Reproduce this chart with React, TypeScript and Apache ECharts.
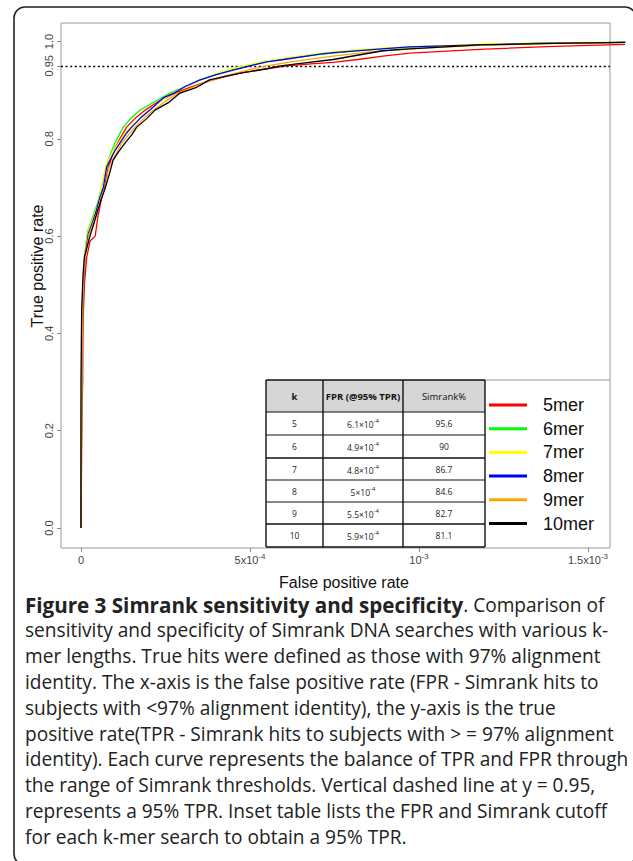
import React, { useEffect, useRef } from "react";
import * as echarts from "echarts";

// ---- data (FPR in units of 1e-4, TPR as fraction) ----
const seriesNames = ["5mer", "6mer", "7mer", "8mer", "9mer", "10mer"];
const seriesColors = ["#ff0000", "#00ff00", "#ffff00", "#0000ff", "#ffa500", "#000000"];

const roc5mer = [[0,0],[0.03,0.24],[0.05,0.30],[0.06,0.42],[0.1,0.50],[0.17,0.557],[0.27,0.59],[0.42,0.60],[0.5,0.64],[0.6,0.675],[0.7,0.70],[0.8,0.74],[1.0,0.78],[1.15,0.80],[1.35,0.824],[1.6,0.842],[1.9,0.859],[2.3,0.877],[2.75,0.893],[3.2,0.905],[3.7,0.917],[4.2,0.927],[4.7,0.935],[5.2,0.941],[5.7,0.946],[6.1,0.95],[6.8,0.954],[7.46,0.957],[8.2,0.963],[8.93,0.970],[9.73,0.976],[11.8,0.984],[14.0,0.990],[16.1,0.994]];
const roc6mer = [[0,0],[0.02,0.30],[0.05,0.46],[0.09,0.53],[0.12,0.57],[0.2,0.61],[0.35,0.64],[0.5,0.67],[0.6,0.70],[0.75,0.745],[0.8,0.756],[1.0,0.791],[1.25,0.824],[1.45,0.84],[1.75,0.859],[2.1,0.873],[2.63,0.894],[3.1,0.908],[3.5,0.92],[4.0,0.932],[4.4,0.94],[4.9,0.95],[5.5,0.959],[6.0,0.964],[7.0,0.973],[8.0,0.98],[9.0,0.986],[10.5,0.99],[12.0,0.994],[14.0,0.997],[16.1,0.998]];
const roc7mer = [[0,0],[0.02,0.30],[0.05,0.47],[0.09,0.54],[0.12,0.565],[0.22,0.612],[0.35,0.635],[0.5,0.665],[0.6,0.70],[0.75,0.748],[0.8,0.756],[1.05,0.785],[1.3,0.812],[1.55,0.83],[1.85,0.85],[2.2,0.87],[2.7,0.893],[3.1,0.907],[3.5,0.92],[4.0,0.934],[4.4,0.943],[4.8,0.95],[5.4,0.959],[6.0,0.966],[7.0,0.975],[8.0,0.982],[9.0,0.987],[10.5,0.991],[12.0,0.995],[14.0,0.997],[16.1,0.998]];
const roc8mer = [[0,0],[0.02,0.30],[0.05,0.45],[0.09,0.52],[0.12,0.557],[0.22,0.606],[0.35,0.63],[0.46,0.654],[0.56,0.68],[0.66,0.70],[0.76,0.742],[0.9,0.762],[1.0,0.775],[1.15,0.791],[1.35,0.812],[1.5,0.824],[1.75,0.842],[2.04,0.859],[2.43,0.884],[2.75,0.894],[3.1,0.908],[3.52,0.921],[4.0,0.932],[4.5,0.941],[5.0,0.95],[5.5,0.958],[6.0,0.963],[7.07,0.974],[7.46,0.977],[8.9,0.985],[9.7,0.989],[11.8,0.993],[13.5,0.996],[16.1,0.998]];
const roc9mer = [[0,0],[0.02,0.30],[0.05,0.46],[0.09,0.53],[0.13,0.56],[0.24,0.605],[0.38,0.63],[0.5,0.655],[0.6,0.68],[0.72,0.70],[0.82,0.74],[1.0,0.765],[1.2,0.79],[1.45,0.812],[1.6,0.824],[1.9,0.845],[2.15,0.859],[2.5,0.877],[2.85,0.893],[3.3,0.906],[3.7,0.917],[4.2,0.928],[4.7,0.937],[5.1,0.944],[5.5,0.95],[6.2,0.958],[7.46,0.970],[8.5,0.978],[9.7,0.985],[11.8,0.992],[14.0,0.996],[16.1,0.998]];
const roc10mer = [[0,0],[0,0.30],[0.02,0.45],[0.06,0.52],[0.1,0.557],[0.29,0.606],[0.4,0.63],[0.5,0.654],[0.62,0.68],[0.7,0.695],[0.85,0.73],[0.95,0.756],[1.1,0.772],[1.3,0.791],[1.5,0.808],[1.65,0.824],[1.95,0.842],[2.19,0.859],[2.6,0.875],[2.93,0.894],[3.4,0.905],[3.8,0.921],[4.3,0.929],[4.8,0.936],[5.0,0.938],[5.5,0.944],[5.9,0.95],[6.5,0.955],[7.46,0.963],[8.93,0.981],[9.73,0.985],[11.8,0.993],[14.0,0.996],[16.1,0.998]];
const rocCurves = [roc5mer, roc6mer, roc7mer, roc8mer, roc9mer, roc10mer];

const tprThreshold = 0.95;
const xTickValues = [0, 5, 10, 15];
const xTickLabels = ["{b|0}", "{b|5x10}{s|-4}", "{b|10}{s|-3}", "{b|1.5x10}{s|-3}"];
const yTickValues = [0, 0.2, 0.4, 0.6, 0.8, 0.95, 1.0];
const yTickLabels = ["0.0", "0.2", "0.4", "0.6", "0.8", "0.95", "1.0"];

// inset table
const tableHeader = ["k", "FPR (@95% TPR)", "Simrank%"];
const tableK = ["5", "6", "7", "8", "9", "10"];
const tableFprMantissa = ["6.1", "4.9", "4.8", "5", "5.5", "5.9"];
const tableFprExponent = "-4";
const tableSimrank = ["95.6", "90", "86.7", "84.6", "82.7", "81.1"];

const xTitle = "False positive rate";
const yTitle = "True positive rate";
const captionBold = "Figure 3 Simrank sensitivity and specificity";
const captionLines = [
  ". Comparison of",
  "sensitivity and specificity of Simrank DNA searches with various k-",
  "mer lengths. True hits were defined as those with 97% alignment",
  "identity. The x-axis is the false positive rate (FPR - Simrank hits to",
  "subjects with <97% alignment identity), the y-axis is the true",
  "positive rate(TPR - Simrank hits to subjects with > = 97% alignment",
  "identity). Each curve represents the balance of TPR and FPR through",
  "the range of Simrank thresholds. Vertical dashed line at y = 0.95,",
  "represents a 95% TPR. Inset table lists the FPR and Simrank cutoff",
  "for each k-mer search to obtain a 95% TPR.",
];

// ---- layout ----
const W = 633, H = 861;
const G_LEFT = 61, G_TOP = 23, G_RIGHT = 626, G_BOTTOM = 548;
const X_ZERO_PX = 81, X_PX_PER_UNIT = 33.8;
const Y_ZERO_PX = 528, Y_PX_PER_UNIT = 486.5;
const X_MIN = -(X_ZERO_PX - G_LEFT) / X_PX_PER_UNIT;
const X_MAX = (G_RIGHT - X_ZERO_PX) / X_PX_PER_UNIT;
const Y_MIN = -(G_BOTTOM - Y_ZERO_PX) / Y_PX_PER_UNIT;
const Y_MAX = (Y_ZERO_PX - G_TOP) / Y_PX_PER_UNIT;
const BOX_RIGHT = 610;
const X_BOX_RIGHT = (BOX_RIGHT - X_ZERO_PX) / X_PX_PER_UNIT;

const SANS = "'Liberation Sans', Arial, sans-serif";
const CAP = "'Open Sans', sans-serif";

function buildTable(): any[] {
  const cols = [266, 323, 403, 485];
  const rows = [380, 412, 435, 458, 480, 502, 524, 547];
  const els: any[] = [];
  els.push({ type: "rect", shape: { x: cols[0], y: rows[0], width: cols[3] - cols[0], height: rows[1] - rows[0] }, style: { fill: "#d6d6d6" }, z: 10 });
  els.push({ type: "rect", shape: { x: cols[0], y: rows[1], width: cols[3] - cols[0], height: rows[7] - rows[1] }, style: { fill: "#ffffff" }, z: 10 });
  for (let i = 0; i < rows.length; i++) {
    els.push({ type: "line", shape: { x1: cols[0], y1: rows[i], x2: cols[3], y2: rows[i] }, style: { stroke: "#111", lineWidth: i === 0 || i === 7 || i === 3 || i === 6 ? 1.6 : 1.1 }, z: 11 });
  }
  for (let j = 0; j < cols.length; j++) {
    els.push({ type: "line", shape: { x1: cols[j], y1: rows[0], x2: cols[j], y2: rows[7] }, style: { stroke: "#111", lineWidth: 1.4 }, z: 11 });
  }
  const centers = [(cols[0] + cols[1]) / 2, (cols[1] + cols[2]) / 2, (cols[2] + cols[3]) / 2];
  tableHeader.forEach((h, j) => {
    els.push({ type: "text", x: centers[j], y: (rows[0] + rows[1]) / 2, style: { text: h, fill: "#111", font: `${j < 2 ? "bold " : ""}9.5px ${CAP}`, align: "center", verticalAlign: "middle" }, z: 12 });
  });
  for (let i = 0; i < tableK.length; i++) {
    const cy = (rows[i + 1] + rows[i + 2]) / 2;
    els.push({ type: "text", x: centers[0], y: cy, style: { text: tableK[i], fill: "#222", font: `8.5px ${CAP}`, align: "center", verticalAlign: "middle" }, z: 12 });
    els.push({ type: "text", x: centers[1], y: cy, style: { text: `{m|${tableFprMantissa[i]}×10}{s|${tableFprExponent}}`, align: "center", verticalAlign: "middle", rich: { m: { fill: "#222", font: `8.5px ${CAP}`, lineHeight: 11, verticalAlign: "bottom" }, s: { fill: "#222", font: `6px ${CAP}`, verticalAlign: "top" } } }, z: 12 });
    els.push({ type: "text", x: centers[2], y: cy, style: { text: tableSimrank[i], fill: "#222", font: `8.5px ${CAP}`, align: "center", verticalAlign: "middle" }, z: 12 });
  }
  return els;
}

function buildCaption(): any[] {
  const els: any[] = [];
  const y0 = 604.5, dy = 25.8;
  els.push({ type: "text", x: 25, y: y0, style: { text: `{b|${captionBold}}{n|${captionLines[0]}}`, verticalAlign: "middle", align: "left", rich: { b: { font: `bold 20.6px ${CAP}`, fill: "#222" }, n: { font: `19.1px ${CAP}`, fill: "#222" } } } });
  for (let i = 1; i < captionLines.length; i++) {
    els.push({ type: "text", x: 25, y: y0 + dy * i, style: { text: captionLines[i], font: `19.1px ${CAP}`, fill: "#222", align: "left", verticalAlign: "middle" } });
  }
  return els;
}

export default function App() {
  const ref = useRef<HTMLDivElement>(null);
  useEffect(() => {
    if (!ref.current) return;
    const chart = echarts.init(ref.current, null, { renderer: "svg", width: W, height: H });
    const series: any[] = rocCurves.map((d, i) => ({
      name: seriesNames[i],
      type: "line",
      data: d,
      showSymbol: false,
      symbol: "none",
      lineStyle: { color: seriesColors[i], width: 1.3 },
      itemStyle: { color: seriesColors[i] },
      z: 3 + i,
    }));
    series[0].markLine = {
      silent: true,
      symbol: "none",
      label: { show: false },
      lineStyle: { color: "#000", type: [2, 2.6], width: 1.4 },
      data: [[{ coord: [X_MIN, tprThreshold] }, { coord: [X_BOX_RIGHT, tprThreshold] }]],
    };
    const option: any = {
      animation: false,
      backgroundColor: "#ffffff",
      grid: { left: G_LEFT, top: G_TOP, width: G_RIGHT - G_LEFT, height: G_BOTTOM - G_TOP, containLabel: false },
      xAxis: {
        type: "value",
        min: X_MIN,
        max: X_MAX,
        axisLine: { show: false, onZero: false },
        splitLine: { show: false },
        axisTick: { show: true, customValues: xTickValues, length: 4, lineStyle: { color: "#888" } },
        axisLabel: {
          customValues: xTickValues,
          margin: 4,
          formatter: (v: number) => xTickLabels[xTickValues.indexOf(Math.round(v * 1000) / 1000)] ?? "",
          color: "#444",
          fontFamily: SANS,
          fontSize: 11,
          rich: {
            b: { fontSize: 11, fontFamily: SANS, color: "#444", lineHeight: 13, verticalAlign: "bottom" },
            s: { fontSize: 8, fontFamily: SANS, color: "#444", lineHeight: 4, verticalAlign: "top" },
          },
        },
      },
      yAxis: {
        type: "value",
        min: Y_MIN,
        max: Y_MAX,
        axisLine: { show: false, onZero: false },
        splitLine: { show: false },
        axisTick: { show: true, customValues: yTickValues, length: 4, lineStyle: { color: "#888" } },
        axisLabel: {
          customValues: yTickValues,
          rotate: 90,
          margin: 7,
          formatter: (v: number) => yTickLabels[yTickValues.findIndex((t) => Math.abs(t - v) < 1e-6)] ?? "",
          color: "#444",
          fontFamily: SANS,
          fontSize: 11,
        },
      },
      legend: {
        orient: "vertical",
        left: 489,
        top: 395,
        padding: 0,
        itemWidth: 38,
        itemHeight: 3,
        itemGap: 3.7,
        icon: "rect",
        data: seriesNames,
        selectedMode: false,
        textStyle: { fontSize: 18, lineHeight: 20, fontFamily: SANS, color: "#111", padding: [0, 0, 0, 11] },
      },
      graphic: [
        { type: "rect", shape: { x: 14, y: 7, width: 622, height: 858, r: 11 }, style: { fill: "none", stroke: "#222", lineWidth: 1.6 }, silent: true },
        { type: "rect", shape: { x: G_LEFT, y: G_TOP, width: BOX_RIGHT - G_LEFT, height: G_BOTTOM - G_TOP }, style: { fill: "none", stroke: "#9a9a9a", lineWidth: 1 }, silent: true },
        { type: "line", shape: { x1: 485, y1: 380, x2: BOX_RIGHT, y2: 380 }, style: { stroke: "#9a9a9a", lineWidth: 1 }, silent: true },
        ...buildTable(),
        { type: "text", x: 344, y: 582, style: { text: xTitle, font: `16px ${SANS}`, fill: "#111", align: "center", verticalAlign: "middle" } },
        { type: "text", x: 37, y: 266, rotation: Math.PI / 2, style: { text: yTitle, font: `16px ${SANS}`, fill: "#111", align: "center", verticalAlign: "middle" } },
        ...buildCaption(),
      ],
      series,
    };
    chart.setOption(option);
    return () => chart.dispose();
  }, []);
  return <div ref={ref} style={{ position: "fixed", left: 0, top: 0, width: W, height: H, background: "#fff" }} />;
}
